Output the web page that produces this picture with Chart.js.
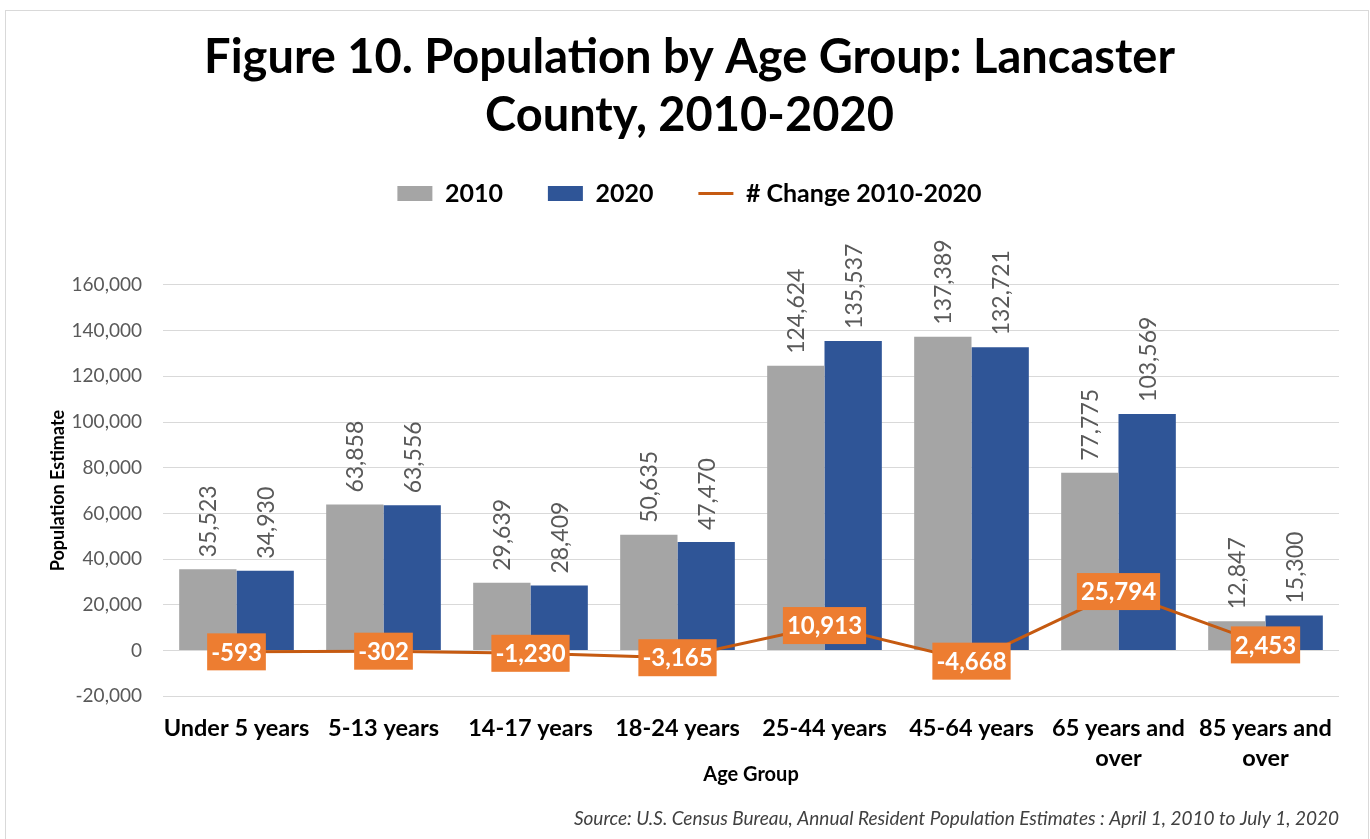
<!DOCTYPE html>
<html>
<head>
<meta charset="utf-8">
<script src="https://cdn.jsdelivr.net/npm/chart.js@4.4.0/dist/chart.umd.min.js"></script>
<style>
html, body { margin: 0; padding: 0; background: #fff; }
</style>
</head>
<body>
<canvas id="chart" width="1370" height="839"></canvas>
<script>

const ageGroups = [
    "Under 5 years", "5-13 years", "14-17 years", "18-24 years",
    "25-44 years", "45-64 years", ["65 years and", "over"], ["85 years and", "over"]
];
const pop2010 = [35523, 63858, 29639, 50635, 124624, 137389, 77775, 12847];
const pop2020 = [34930, 63556, 28409, 47470, 135537, 132721, 103569, 15300];
const change = [-593, -302, -1230, -3165, 10913, -4668, 25794, 2453];
const yTicks = [-20000, 0, 20000, 40000, 60000, 80000, 100000, 120000, 140000, 160000];

const GRAY = "#A5A5A5";
const BLUE = "#2F5597";
const LINE = "#C55A11";
const BOX = "#ED7D31";

Chart.defaults.font.family = "Lato, 'Open Sans', sans-serif";

function num(v) {
    return Number(v).toLocaleString("en-US");
}

// empty box between legend and plot
const spacer = {
    id: "spacer",
    beforeInit(chart) {
        const box = {
            position: "top",
            weight: 500,
            fullSize: true,
            options: {},
            width: 0,
            height: 0,
            isHorizontal() { return true; },
            update(w) { this.width = w; this.height = 69; },
            draw() {}
        };
        Chart.layouts.addBox(chart, box);
    }
};

const frame = {
    id: "frame",
    beforeDraw(chart) {
        const ctx = chart.ctx;
        ctx.save();
        ctx.fillStyle = "#fff";
        ctx.fillRect(0, 0, chart.width, chart.height);
        ctx.strokeStyle = "#D9D9D9";
        ctx.lineWidth = 1;
        ctx.strokeRect(5.5, 10.5, 1363, 840);
        ctx.restore();
    }
};

const valueLabels = {
    id: "valueLabels",
    afterDatasetsDraw(chart) {
        const ctx = chart.ctx;
        const series = [pop2010, pop2020];

        ctx.save();
        ctx.font = "23px Lato";
        ctx.fillStyle = "#595959";
        ctx.textAlign = "left";
        ctx.textBaseline = "middle";
        series.forEach((vals, di) => {
            chart.getDatasetMeta(di).data.forEach((bar, i) => {
                ctx.save();
                ctx.translate(bar.x, bar.y - 12);
                ctx.rotate(-Math.PI / 2);
                ctx.fillText(num(vals[i]), 0, 1);
                ctx.restore();
            });
        });

        ctx.font = "bold 24px Lato";
        ctx.textAlign = "center";
        chart.getDatasetMeta(2).data.forEach((pt, i) => {
            const txt = num(change[i]);
            const w = ctx.measureText(txt).width + 8;
            const h = 37;
            ctx.fillStyle = BOX;
            ctx.fillRect(pt.x - w / 2, pt.y - h / 2, w, h);
            ctx.fillStyle = "#fff";
            ctx.fillText(txt, pt.x, pt.y + 1);
        });
        ctx.restore();
    }
};

new Chart(document.getElementById("chart"), {
    data: {
        labels: ageGroups,
        datasets: [
            {
                type: "bar",
                label: "2010",
                data: pop2010,
                backgroundColor: GRAY,
                order: 1
            },
            {
                type: "bar",
                label: "2020",
                data: pop2020,
                backgroundColor: BLUE,
                order: 1
            },
            {
                type: "line",
                label: "# Change 2010-2020",
                data: change,
                borderColor: LINE,
                backgroundColor: LINE,
                borderWidth: 3,
                pointRadius: 0,
                tension: 0,
                order: 0
            }
        ]
    },
    options: {
        responsive: false,
        animation: false,
        layout: {
            padding: { left: 40, right: 31, top: 0, bottom: 0 }
        },
        datasets: {
            bar: { categoryPercentage: 0.78, barPercentage: 1 }
        },
        plugins: {
            title: {
                display: true,
                text: ["Figure 10. Population by Age Group: Lancaster", "County, 2010-2020"],
                color: "#000",
                font: { size: 47, weight: "bold", lineHeight: 1.234 },
                padding: { top: 29, bottom: -9 }
            },
            subtitle: {
                display: true,
                position: "bottom",
                align: "end",
                text: "Source: U.S. Census Bureau, Annual Resident Population Estimates : April 1, 2010 to July 1, 2020",
                color: "#404040",
                font: { size: 19, style: "italic", lineHeight: 1.2 },
                padding: { top: 4, bottom: 9 }
            },
            legend: {
                position: "top",
                labels: {
                    color: "#000",
                    font: { size: 25, weight: "bold" },
                    usePointStyle: true,
                    pointStyleWidth: 35,
                    boxHeight: 15,
                    padding: 45,
                    generateLabels(chart) {
                        return chart.data.datasets.map((ds, i) => ({
                            text: ds.label,
                            datasetIndex: i,
                            fillStyle: ds.backgroundColor,
                            strokeStyle: ds.type == "line" ? LINE : ds.backgroundColor,
                            lineWidth: ds.type == "line" ? 3 : 0,
                            pointStyle: ds.type == "line" ? "line" : "rect",
                            fontColor: "#000",
                            hidden: false
                        }));
                    }
                }
            },
            tooltip: { enabled: false }
        },
        scales: {
            x: {
                grid: { display: false, drawTicks: false },
                border: { display: false },
                ticks: {
                    color: "#000",
                    font: { size: 23.5, weight: "bold", lineHeight: 1.277 },
                    padding: 17,
                    maxRotation: 0,
                    autoSkip: false
                },
                title: {
                    display: true,
                    text: "Age Group",
                    color: "#000",
                    font: { size: 20, weight: "bold", lineHeight: 1.2 },
                    padding: { top: -28, bottom: 17 }
                }
            },
            y: {
                min: -20000,
                max: 160000,
                afterBuildTicks(scale) {
                    scale.ticks = yTicks.map(v => ({ value: v }));
                },
                afterFit(scale) {
                    scale.width = 123;
                },
                grid: { color: "#D9D9D9", lineWidth: 1, drawTicks: false },
                border: { display: false },
                ticks: {
                    color: "#595959",
                    font: { size: 19 },
                    padding: 21,
                    callback: v => num(v)
                },
                title: {
                    display: true,
                    text: "Population Estimate",
                    color: "#000",
                    font: { size: 18, weight: "bold", lineHeight: 1.2 },
                    padding: { top: 7, bottom: 0 }
                }
            }
        }
    },
    plugins: [spacer, frame, valueLabels]
});

</script>
</body>
</html>
